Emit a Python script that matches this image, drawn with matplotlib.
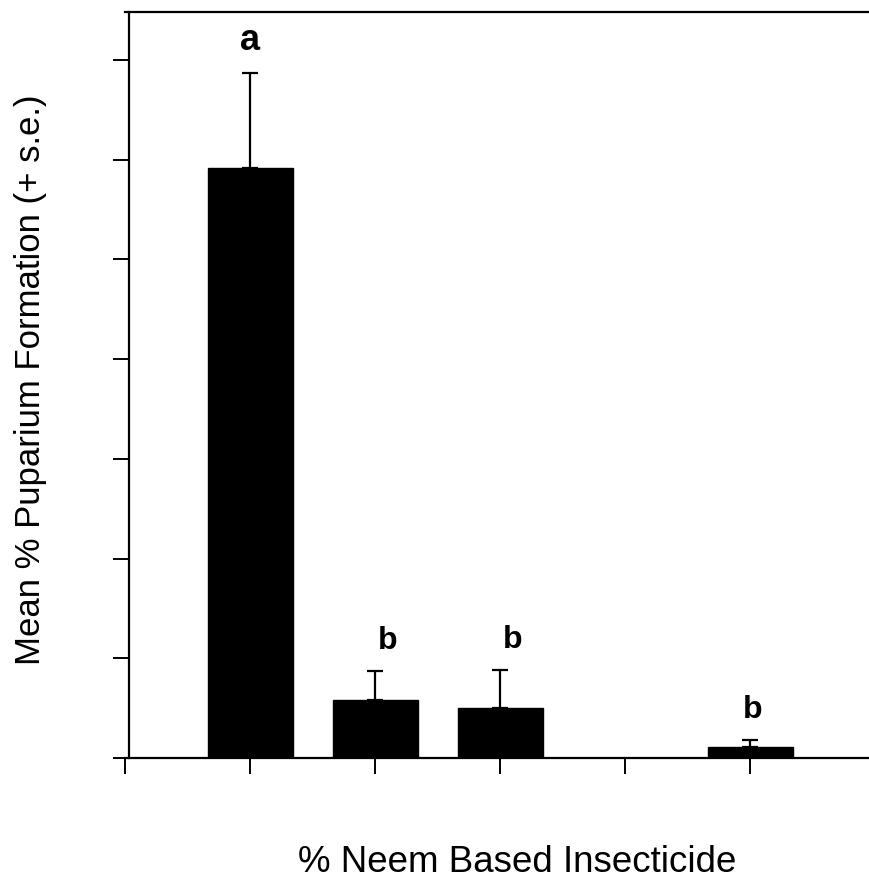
import matplotlib
matplotlib.use("Agg")
import matplotlib.pyplot as plt

# Mean % puparium formation per treatment (upper s.e. only)
positions = [1, 2, 3, 5]
means = [59.2, 5.8, 5.0, 1.1]
se = [9.5, 2.9, 3.8, 0.7]
letters = ["a", "b", "b", "b"]
letter_dx = [0, 9, 9, 2]          # horizontal nudge of each letter, in points
letter_size = [26, 23, 23, 23]

x_ticks = [0, 1, 2, 3, 4, 5]
y_ticks = [0, 10, 20, 30, 40, 50, 60, 70]

plt.rcParams["font.family"] = ["Liberation Sans", "DejaVu Sans"]

fig = plt.figure(figsize=(8.69, 8.86), dpi=100)
ax = fig.add_axes([125 / 869, 1 - 758 / 886, 1 - 125 / 869, (758 - 12) / 886])

ax.bar(positions, means, width=0.68, color="black", edgecolor="black", zorder=2)
ax.errorbar(positions, means, yerr=[[0] * len(se), se], fmt="none",
            ecolor="black", elinewidth=1.6, capsize=6, capthick=1.6, zorder=3)

for x, m, e, t, dx, fs in zip(positions, means, se, letters, letter_dx, letter_size):
    ax.annotate(t, (x, m + e), xytext=(dx, 11), textcoords="offset points",
                ha="center", va="bottom", fontsize=fs, fontweight="bold")

ax.set_xlim(0, 5.95)
ax.set_ylim(0, 74.8)
ax.set_xticks(x_ticks)
ax.set_yticks(y_ticks)
ax.tick_params(axis="both", direction="out", length=11.5, width=1.4,
               labelleft=False, labelbottom=False)
ax.spines["right"].set_visible(False)
for s in ("left", "bottom", "top"):
    ax.spines[s].set_linewidth(1.6)
ax.spines["left"].set_position(("data", 0.032))

fig.text(517 / 869, 1 - 862 / 886, "% Neem Based Insecticide",
         ha="center", va="center", fontsize=26.5)
fig.text(31 / 869, 1 - 380 / 886, "Mean % Puparium Formation (+ s.e.)",
         ha="center", va="center", rotation=90, fontsize=25)

fig.savefig("out.png", dpi=100)
